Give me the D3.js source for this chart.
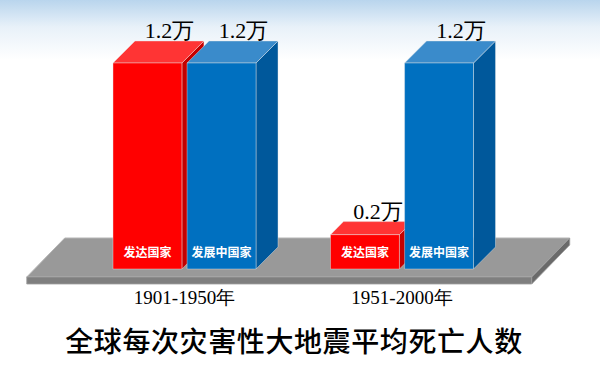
<!DOCTYPE html>
<html>
<head>
<meta charset="utf-8">
<script src="https://cdn.jsdelivr.net/npm/d3@7/dist/d3.min.js"></script>
<style>
  html, body { margin: 0; padding: 0; background: #fff; }
  svg { display: block; }
</style>
</head>
<body>
<svg id="chart" width="600" height="375"></svg>
<script>
// Periods on the x axis and the two country groups
const periods = ["1901-1950年", "1951-2000年"];
const groups = ["发达国家", "发展中国家"];
// Average deaths per major earthquake, in units of 万 (10,000 people)
const developed = [1.2, 0.2];
const developing = [1.2, 1.2];
const valueLabels = [["1.2万", "1.2万"], ["0.2万", "1.2万"]];
const title = "全球每次灾害性大地震平均死亡人数";

const W = 600, H = 375;
const svg = d3.select("#chart");

// Sky-blue wash fading to white at the top
const defs = svg.append("defs");
const grad = defs.append("linearGradient")
  .attr("id", "sky").attr("x1", 0).attr("y1", 0).attr("x2", 0).attr("y2", 1);
grad.append("stop").attr("offset", "0%").attr("stop-color", "#b9d5ed");
grad.append("stop").attr("offset", "45%").attr("stop-color", "#e8f1f9");
grad.append("stop").attr("offset", "100%").attr("stop-color", "#ffffff");
svg.append("rect").attr("width", W).attr("height", 60).attr("fill", "url(#sky)");

// Scales
const x0 = d3.scaleBand().domain(periods).range([75.75, 510.75]);
const x1 = d3.scaleBand().domain(groups).range([-71.5, 71.5]).paddingInner(0.07);
const y = d3.scaleLinear().domain([0, 1.2]).range([269, 63]);

const rows = periods.map((p, i) => ({
  period: p,
  values: [
    { group: groups[0], value: developed[i], label: valueLabels[i][0] },
    { group: groups[1], value: developing[i], label: valueLabels[i][1] }
  ]
}));

const palette = {
  "发达国家": { front: "#ff0000", top: "#ff3434", side: "#c40000" },
  "发展中国家": { front: "#0070c0", top: "#3a8bcb", side: "#00589b" }
};

// Floor slab
const floorDX = 38, floorDY = 39, floorThick = 7;
const fl = x0.range()[0] - 49, fr = x0.range()[1] + 21, ff = 277;
const floor = svg.append("g").attr("class", "floor");
floor.append("polygon")
  .attr("points", [[fl, ff], [fr, ff], [fr + floorDX, ff - floorDY], [fl + floorDX, ff - floorDY]].join(" "))
  .attr("fill", "#999999").attr("stroke", "#b5b5b5").attr("stroke-width", 1);
floor.append("polygon")
  .attr("points", [[fl, ff], [fr, ff], [fr, ff + floorThick], [fl, ff + floorThick]].join(" "))
  .attr("fill", "#7f7f7f").attr("stroke", "#a0a0a0").attr("stroke-width", 0.8);
floor.append("polygon")
  .attr("points", [[fr, ff], [fr + floorDX, ff - floorDY], [fr + floorDX, ff - floorDY + floorThick], [fr, ff + floorThick]].join(" "))
  .attr("fill", "#6a6a6a").attr("stroke", "#a0a0a0").attr("stroke-width", 0.8);

// 3D bars
const bw = x1.bandwidth();
const gRows = svg.selectAll("g.period").data(rows).join("g")
  .attr("class", "period")
  .attr("transform", d => `translate(${x0(d.period) + x0.bandwidth() / 2},0)`);

const bars = gRows.selectAll("g.bar").data(d => d.values).join("g").attr("class", "bar");

bars.each(function (d) {
  const g = d3.select(this);
  const c = palette[d.group];
  const xl = x1(d.group), xr = xl + bw;
  const yb = y(0), yt = y(d.value);
  const dep = Math.min(22, (yb - yt) * 0.38);
  const edge = { stroke: "#e6e6e6", "stroke-width": 0.6, "stroke-opacity": 0.7 };
  const poly = (pts, fill) => {
    const p = g.append("polygon").attr("points", pts.join(" ")).attr("fill", fill);
    Object.entries(edge).forEach(([k, v]) => p.attr(k, v));
  };
  poly([[xr, yt], [xr + dep, yt - dep], [xr + dep, yb - dep], [xr, yb]], c.side);
  poly([[xl, yt], [xr, yt], [xr + dep, yt - dep], [xl + dep, yt - dep]], c.top);
  poly([[xl, yt], [xr, yt], [xr, yb], [xl, yb]], c.front);

  g.append("text")
    .attr("x", (xl + xr) / 2).attr("y", 257)
    .attr("text-anchor", "middle")
    .attr("fill", "#ffffff")
    .attr("font-family", "'Noto Sans CJK SC', sans-serif")
    .attr("font-weight", 700).attr("font-size", 12)
    .text(d.group);

  g.append("text")
    .attr("x", (xl + xr) / 2 + dep).attr("y", yt - dep - 3)
    .attr("text-anchor", "middle")
    .attr("fill", "#000")
    .attr("font-family", "'Liberation Serif', 'Times New Roman', serif")
    .attr("font-size", 22)
    .text(d.label);
});

// Period labels
svg.selectAll("text.period-label").data(periods).join("text")
  .attr("class", "period-label")
  .attr("x", d => x0(d) + x0.bandwidth() / 2)
  .attr("y", 304)
  .attr("text-anchor", "middle")
  .attr("fill", "#000")
  .attr("font-family", "'Liberation Serif', 'Times New Roman', serif")
  .attr("font-size", 19)
  .text(d => d);

// Title
svg.append("text")
  .attr("x", 294).attr("y", 352)
  .attr("text-anchor", "middle")
  .attr("fill", "#000")
  .attr("font-family", "'Noto Sans CJK SC', sans-serif")
  .attr("font-weight", 500)
  .attr("font-size", 28)
  .attr("letter-spacing", 0.6)
  .text(title);
</script>
</body>
</html>
